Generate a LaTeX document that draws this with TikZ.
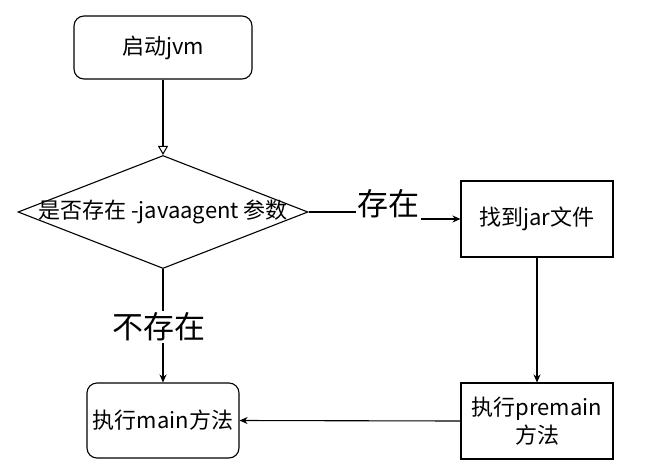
\documentclass[tikz,border=0pt]{standalone}
\usepackage{fontspec}
\setmainfont{Noto Sans CJK SC}
\usetikzlibrary{arrows.meta,shapes.geometric}
\begin{document}
\begin{tikzpicture}[x=1pt,y=-1pt,
  box/.style={draw, line width=1.1pt, inner sep=0pt, font=\fontsize{22}{28}\selectfont, align=center},
  rbox/.style={box, rounded corners=10pt},
  dia/.style={draw, diamond, line width=1.1pt, inner sep=0pt, minimum width=290pt, minimum height=113pt},
  lbl/.style={fill=white, inner sep=1.5pt, font=\fontsize{31}{34}\selectfont},
  arr/.style={line width=1.1pt, -{Stealth[length=8pt,width=7pt,inset=2.5pt]}},
  oarr/.style={line width=1.1pt, -{Triangle[open,length=9pt,width=10pt,line width=1pt]}}
]
\useasboundingbox (0,0) rectangle (666,466);
\node[rbox, minimum width=178pt, minimum height=63pt] (n1) at (163,47.5) {启动jvm};
\node[dia] (d) at (163,212) {};
\node[font=\fontsize{22}{26}\selectfont, inner sep=0pt] (dt) at (d.center) {是否存在 -javaagent 参数};
\node[box, minimum width=152pt, minimum height=76pt] (n2) at (537,219) {找到jar文件};
\node[box, minimum width=152pt, minimum height=76pt] (n3) at (537,421) {执行premain\\方法};
\node[rbox, minimum width=152pt, minimum height=75pt] (n4) at (163,420.5) {执行main方法};

\draw[oarr] (n1.south) -- (d.north);
\draw[arr] (d.east) -- (387,212) |- (n2.west);
\node[lbl, minimum height=36pt] (l1) at (388,204) {存在};
\draw[arr] (d.south) -- (n4.north);
\node[lbl] (l2) at (159,327) {不存在};
\draw[arr] (n2.south) -- (n3.north);
\draw[arr] (n3.west) -- (n4.east);
\end{tikzpicture}
\end{document}
